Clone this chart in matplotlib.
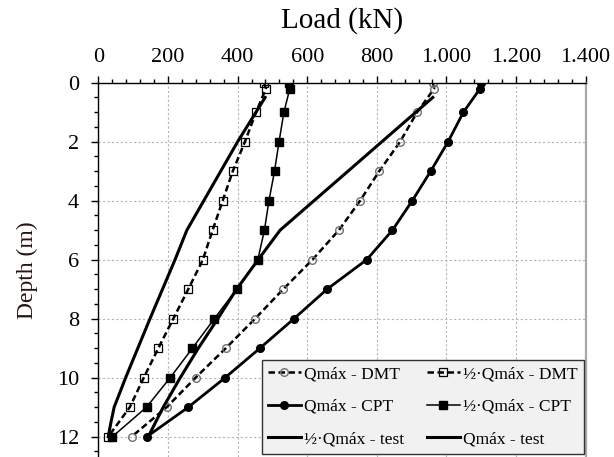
import matplotlib
matplotlib.use("Agg")
import matplotlib.pyplot as plt
from matplotlib.ticker import MultipleLocator, FixedLocator, FixedFormatter

plt.rcParams['font.family'] = ['Liberation Serif', 'DejaVu Serif']

# depths of the DMT / CPT estimates (m)
depth = [0, 0.2, 1, 2, 3, 4, 5, 6, 7, 8, 9, 10, 11, 12]

# loads (kN)
q_dmt = [961, 965, 916, 867, 807, 752, 691, 615, 531, 450, 366, 279, 196, 95]
half_q_dmt = [476, 481, 453, 421, 386, 357, 328, 300, 258, 215, 172, 130, 90, 28]
q_cpt = [1099, 1097, 1049, 1005, 955, 902, 845, 771, 657, 562, 464, 364, 258, 139]
half_q_cpt = [547, 550, 533, 519, 506, 490, 477, 458, 397, 333, 270, 206, 138, 40]

# load test curves
depth_test = [0.5, 5, 6, 7, 8, 9, 10, 11, 12]
q_test = [961, 522, 459, 397, 343, 287, 235, 186, 143]
depth_half_test = [0.5, 2, 5, 6, 8, 10, 11, 11.5, 12]
half_q_test = [479, 400, 254, 220, 148, 78, 45, 36, 28]

x_ticks = [0, 200, 400, 600, 800, 1000, 1200, 1400]
x_tick_labels = ["0", "200", "400", "600", "800", "1.000", "1.200", "1.400"]
y_ticks = [0, 2, 4, 6, 8, 10, 12]

W, H = 614, 457
fig = plt.figure(figsize=(W / 100, H / 100), dpi=100)
ax = fig.add_axes([98.5 / W, 0, (585.5 - 98.5) / W, (H - 82.7) / H])
ax.set_xlim(0, 1400)
ax.set_ylim((H - 82.7) / 29.5, 0)

dash = (2.6, 1.4)
l1, = ax.plot(q_dmt, depth, color='black', lw=1.8, dashes=dash, marker='o', ms=5.5,
              mfc='none', mec='#707070', mew=1.0, label='Qmáx - DMT')
l2, = ax.plot(q_cpt, depth, color='black', lw=2.0, marker='o', ms=5.5,
              mfc='black', mec='black', label='Qmáx - CPT')
l3, = ax.plot(half_q_test, depth_half_test, color='black', lw=2.2, label='½·Qmáx - test')
l4, = ax.plot(half_q_dmt, depth, color='black', lw=1.8, dashes=dash, marker='s', ms=5.5,
              mfc='none', mec='black', mew=0.9, label='½·Qmáx - DMT')
l5, = ax.plot(half_q_cpt, depth, color='black', lw=1.1, marker='s', ms=6,
              mfc='black', mec='black', label='½·Qmáx - CPT')
l6, = ax.plot(q_test, depth_test, color='black', lw=2.2, label='Qmáx - test')

ax.xaxis.set_major_locator(FixedLocator(x_ticks))
ax.xaxis.set_major_formatter(FixedFormatter(x_tick_labels))
ax.xaxis.set_minor_locator(MultipleLocator(40))
ax.yaxis.set_major_locator(FixedLocator(y_ticks))
ax.yaxis.set_minor_locator(MultipleLocator(0.5))
ax.xaxis.tick_top()
ax.tick_params(axis='x', which='both', top=True, bottom=False, direction='out',
               labelsize=16, pad=6)
ax.tick_params(axis='y', which='both', left=True, right=False, direction='out',
               labelsize=16, pad=9)
ax.tick_params(which='major', length=5, width=1)
ax.tick_params(which='minor', length=3, width=1)

ax.grid(True, which='major', color='#b5b5b5', lw=0.8, linestyle=(0, (2, 2)))
ax.set_axisbelow(True)

ax.spines['bottom'].set_visible(False)
ax.spines['right'].set_color('#a8a8a8')
ax.spines['right'].set_linewidth(1.6)
ax.spines['left'].set_linewidth(1.0)
ax.spines['top'].set_linewidth(1.0)

fig.text(342 / W, 1 - 21 / H, 'Load (kN)', ha='center', va='center', fontsize=21)
fig.text(27 / W, 1 - 270 / H, 'Depth (m)', ha='center', va='center', rotation=90,
         fontsize=17, color='#2a1212')

leg = ax.legend(handles=[l1, l2, l3, l4, l5, l6], ncol=2, loc='upper left',
                bbox_to_anchor=(261.7 / W, 1 - 360 / H), bbox_transform=fig.transFigure,
                fontsize=12.5, frameon=True, fancybox=False, handlelength=1.9,
                handletextpad=0.2, columnspacing=1.3, labelspacing=0.95,
                borderpad=0.35, borderaxespad=0)
leg.get_frame().set_facecolor('#f1f1f1')
leg.get_frame().set_edgecolor('#333333')
leg.get_frame().set_linewidth(1.0)
leg.get_frame().set_alpha(1)

fig.savefig('out.png', dpi=100)
